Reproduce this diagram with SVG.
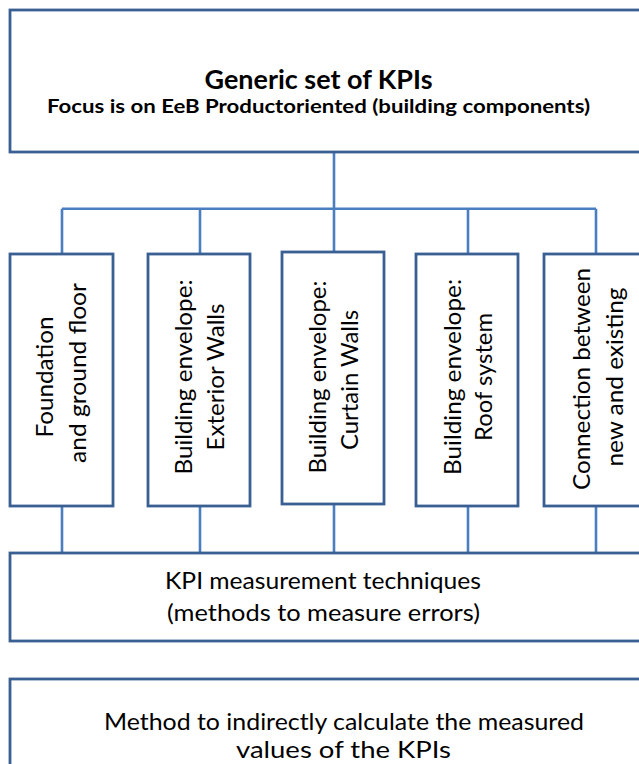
<svg xmlns="http://www.w3.org/2000/svg" width="639" height="764" viewBox="0 0 639 764">
<style>
.box{fill:#ffffff;stroke:#3A5F93;stroke-width:2.8}
.conn{fill:none;stroke:#4A7EBF;stroke-width:2.6}
.t{font-family:Lato,"Open Sans","Liberation Sans",sans-serif;font-size:23.5px;fill:#000000;text-anchor:middle}
.b{font-weight:bold}
</style>
<rect width="639" height="764" fill="#ffffff"/>
<g id="connectors">
<path class="conn" d="M334,152 V254 M62,208.7 H596 M62,208.7 V254 M200,208.7 V254 M468,208.7 V254 M596,208.7 V254"/>
<path class="conn" d="M62,506 V553 M200,506 V553 M334,504 V553 M468,506 V553 M596,506 V553"/>
</g>
<g id="generic">
<rect class="box" x="10" y="10" width="660" height="142"/>
<text class="t b" x="318.5" y="89" style="font-size:26.5px" textLength="228" lengthAdjust="spacingAndGlyphs">Generic set of KPIs</text>
<text class="t b" x="318.5" y="113" style="font-size:19px" textLength="543" lengthAdjust="spacingAndGlyphs">Focus is on EeB Productoriented (building components)</text>
</g>
<g id="foundation">
<rect class="box" x="10" y="254" width="103" height="252"/>
<g transform="translate(61.5,377) rotate(-90)">
<text class="t" x="0" y="-9" textLength="121" lengthAdjust="spacingAndGlyphs">Foundation</text>
<text class="t" x="4" y="24" textLength="180" lengthAdjust="spacingAndGlyphs">and ground floor</text>
</g>
</g>
<g id="exterior">
<rect class="box" x="148" y="254" width="102" height="252"/>
<g transform="translate(199,377) rotate(-90)">
<text class="t" x="0" y="-7" textLength="195" lengthAdjust="spacingAndGlyphs">Building envelope:</text>
<text class="t" x="0" y="25" textLength="147" lengthAdjust="spacingAndGlyphs">Exterior Walls</text>
</g>
</g>
<g id="curtain">
<rect class="box" x="282" y="252" width="102" height="252"/>
<g transform="translate(333,377) rotate(-90)">
<text class="t" x="0" y="-7" textLength="193" lengthAdjust="spacingAndGlyphs">Building envelope:</text>
<text class="t" x="-3" y="25" textLength="140" lengthAdjust="spacingAndGlyphs">Curtain Walls</text>
</g>
</g>
<g id="roof">
<rect class="box" x="416" y="254" width="102" height="252"/>
<g transform="translate(467,377) rotate(-90)">
<text class="t" x="0" y="-6" textLength="196" lengthAdjust="spacingAndGlyphs">Building envelope:</text>
<text class="t" x="0" y="25" textLength="128" lengthAdjust="spacingAndGlyphs">Roof system</text>
</g>
</g>
<g id="connection">
<rect class="box" x="544" y="254" width="108" height="252"/>
<g transform="translate(598,377) rotate(-90)">
<text class="t" x="-2" y="-8" textLength="222" lengthAdjust="spacingAndGlyphs">Connection between</text>
<text class="t" x="0" y="25" textLength="179" lengthAdjust="spacingAndGlyphs">new and existing</text>
</g>
</g>
<g id="kpi">
<rect class="box" x="10" y="553" width="660" height="88"/>
<text class="t" x="323" y="589" textLength="316" lengthAdjust="spacingAndGlyphs">KPI measurement techniques</text>
<text class="t" x="323.5" y="621" textLength="313" lengthAdjust="spacingAndGlyphs">(methods to measure errors)</text>
</g>
<g id="method">
<rect class="box" x="10" y="679" width="660" height="120"/>
<text class="t" x="344" y="730" textLength="480" lengthAdjust="spacingAndGlyphs">Method to indirectly calculate the measured</text>
<text class="t" x="343.5" y="758" textLength="215" lengthAdjust="spacingAndGlyphs">values of the KPIs</text>
</g>
</svg>
